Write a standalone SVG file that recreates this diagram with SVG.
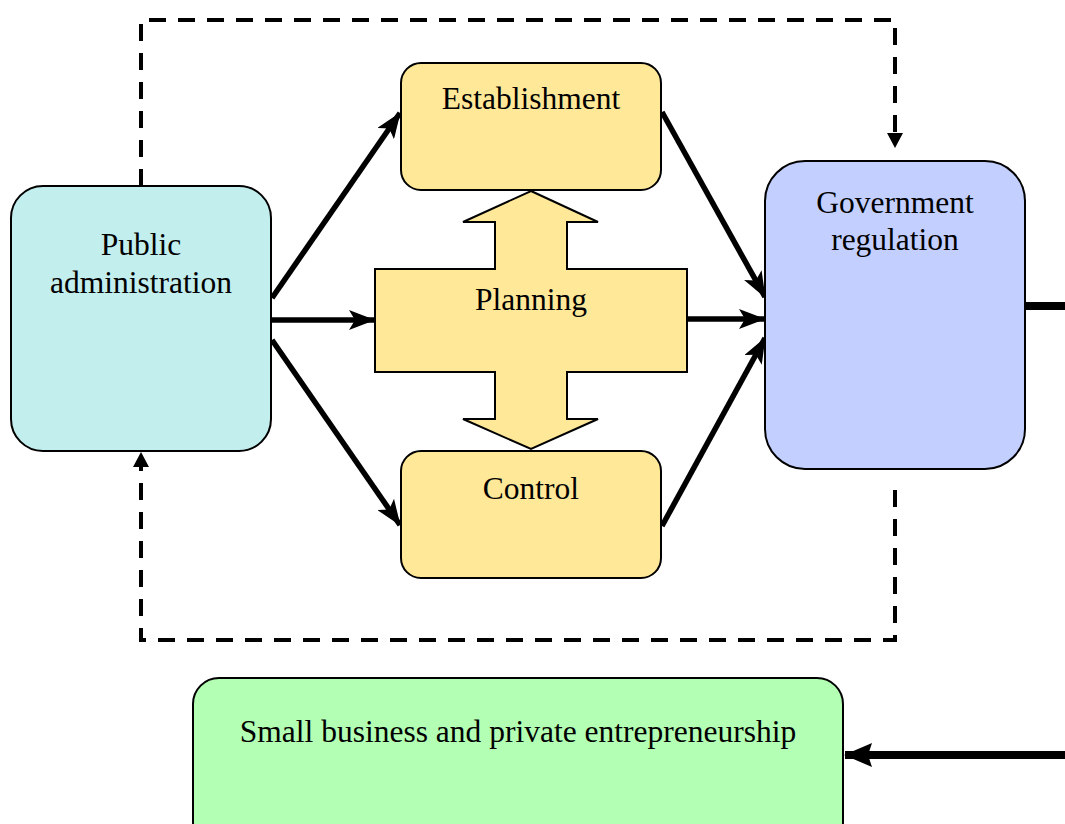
<svg xmlns="http://www.w3.org/2000/svg" width="1065" height="824" viewBox="0 0 1065 824">
  <style>
    .box { stroke: #000; stroke-width: 2; }
    .label { font-family: "Liberation Serif", "Times New Roman", serif; font-size: 31.5px; fill: #000; text-anchor: middle; }
    .flow { stroke: #000; stroke-width: 5.5; fill: none; }
    .heavy { stroke: #000; stroke-width: 8; fill: none; }
    .feedback { stroke: #000; stroke-width: 4; fill: none; stroke-dasharray: 17 12; }
  </style>
  <defs>
    <marker id="arrow" viewBox="0 0 26 20" refX="25" refY="10" markerWidth="26" markerHeight="20" orient="auto" markerUnits="userSpaceOnUse">
      <path d="M0,0 L26,10 L0,20 L6,10 Z" fill="#000"/>
    </marker>
    <marker id="arrowHeavy" viewBox="0 0 28 24" refX="27" refY="12" markerWidth="28" markerHeight="24" orient="auto" markerUnits="userSpaceOnUse">
      <path d="M0,0 L28,12 L0,24 L4,12 Z" fill="#000"/>
    </marker>
  </defs>

  <rect width="1065" height="824" fill="#fff"/>

  <!-- feedback loops and flows -->
  <g id="connectors">
    <polyline class="feedback" points="141,186 141,20 895,20 895,133"/>
    <path d="M887,133 L903,133 L895,148 Z" fill="#000"/>
    <polyline class="feedback" points="895,490 895,640 141,640 141,467"/>
    <path d="M133,467 L149,467 L141,452 Z" fill="#000"/>

    <line class="flow" x1="272" y1="298" x2="400" y2="113" marker-end="url(#arrow)"/>
    <line class="flow" x1="271" y1="320" x2="374" y2="320" marker-end="url(#arrow)"/>
    <line class="flow" x1="272" y1="340" x2="400" y2="525" marker-end="url(#arrow)"/>
    <line class="flow" x1="662" y1="112" x2="765" y2="297" marker-end="url(#arrow)"/>
    <line class="flow" x1="687" y1="319" x2="764" y2="319" marker-end="url(#arrow)"/>
    <line class="flow" x1="662" y1="526" x2="765" y2="338" marker-end="url(#arrow)"/>

    <line class="heavy" x1="1025" y1="306" x2="1070" y2="306"/>
    <line class="heavy" x1="1070" y1="755" x2="845" y2="755" marker-end="url(#arrowHeavy)"/>
  </g>

  <g id="public-administration">
    <rect class="box" x="11" y="186" width="260" height="265" rx="32" fill="#C2EEEE"/>
    <text class="label" x="141" y="255">Public</text>
    <text class="label" x="141" y="293">administration</text>
  </g>

  <g id="establishment">
    <rect class="box" x="401" y="63" width="260" height="127" rx="20" fill="#FFE898"/>
    <text class="label" x="531" y="109">Establishment</text>
  </g>

  <g id="planning">
    <path class="box" fill="#FFE898" d="M531,191 L598,222 L567,222 L567,269 L687,269 L687,372 L567,372 L567,419 L598,419 L531,449 L463,419 L495,419 L495,372 L375,372 L375,269 L495,269 L495,222 L463,222 Z"/>
    <text class="label" x="531" y="310">Planning</text>
  </g>

  <g id="control">
    <rect class="box" x="401" y="451" width="260" height="127" rx="20" fill="#FFE898"/>
    <text class="label" x="531" y="499">Control</text>
  </g>

  <g id="government-regulation">
    <rect class="box" x="765" y="161" width="260" height="308" rx="40" fill="#C3D0FF"/>
    <text class="label" x="895" y="213">Government</text>
    <text class="label" x="895" y="250">regulation</text>
  </g>

  <g id="small-business">
    <rect class="box" x="193" y="678" width="650" height="170" rx="26" fill="#B3FFB3"/>
    <text class="label" x="518" y="742">Small business and private entrepreneurship</text>
  </g>
</svg>
